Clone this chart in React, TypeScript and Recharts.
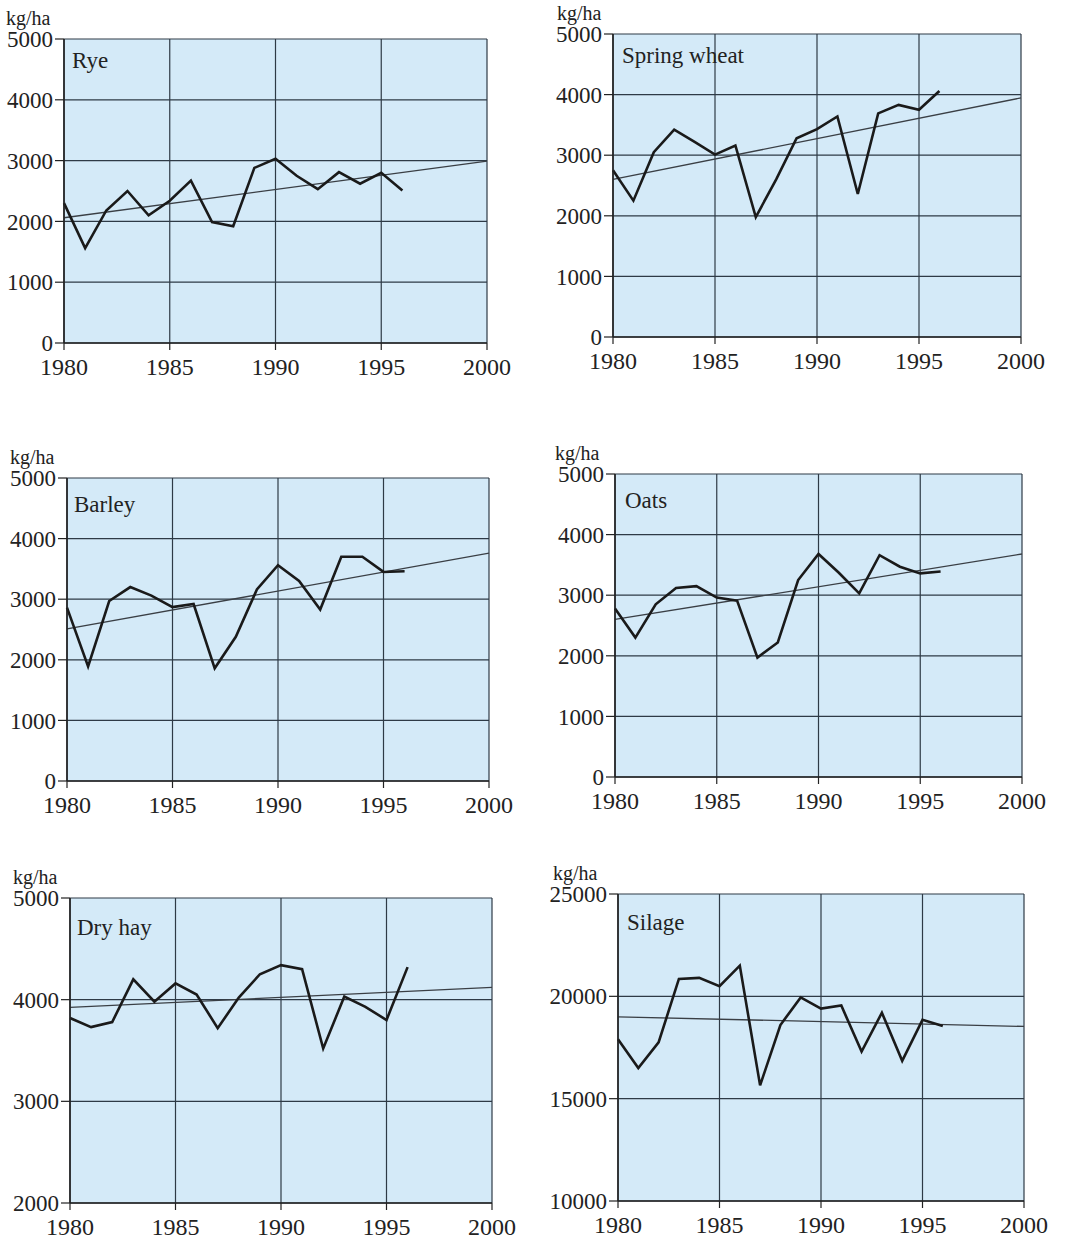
import { LineChart, Line, XAxis, YAxis, CartesianGrid } from "recharts"

const years = [1980, 1981, 1982, 1983, 1984, 1985, 1986, 1987, 1988, 1989, 1990, 1991, 1992, 1993, 1994, 1995, 1996]
const trendYears = [1980, 2000]
const xTicks = [1980, 1985, 1990, 1995, 2000]

const grainTicks = [0, 1000, 2000, 3000, 4000, 5000]
const hayTicks = [2000, 3000, 4000, 5000]
const silageTicks = [10000, 15000, 20000, 25000]

// yields, kg/ha
const rye = [2300, 1560, 2180, 2500, 2100, 2340, 2670, 1990, 1920, 2880, 3030, 2750, 2530, 2810, 2620, 2800, 2510]
const ryeTrend = [2060, 2990]

const springWheat = [2750, 2250, 3050, 3420, 3220, 3010, 3160, 1980, 2600, 3280, 3430, 3640, 2360, 3690, 3830, 3750, 4060]
const springWheatTrend = [2600, 3945]

const barley = [2860, 1890, 2970, 3200, 3060, 2870, 2920, 1860, 2380, 3160, 3560, 3300, 2830, 3700, 3700, 3450, 3460]
const barleyTrend = [2510, 3760]

const oats = [2780, 2300, 2850, 3120, 3150, 2960, 2910, 1970, 2220, 3250, 3680, 3370, 3030, 3660, 3470, 3360, 3390]
const oatsTrend = [2600, 3680]

const dryHay = [3820, 3730, 3780, 4200, 3980, 4160, 4050, 3720, 4020, 4250, 4340, 4300, 3520, 4030, 3930, 3800, 4320]
const dryHayTrend = [3925, 4120]

const silage = [17900, 16500, 17750, 20850, 20900, 20500, 21500, 15650, 18600, 19950, 19400, 19550, 17300, 19200, 16850, 18850, 18550]
const silageTrend = [19000, 18530]

const font = '"Liberation Serif", "Times New Roman", serif'
const ink = "#222"
const gridInk = "#2e3a46"
const plotFill = "#d4eaf8"

const Y_AXIS_W = 75
const TOP = 40
const RIGHT = 40
const BOTTOM = 40

interface PanelProps {
  title: string
  values: number[]
  trend: number[]
  ticks: number[]
  left: number
  top: number
  width: number
  height: number
  unitX: number
  titleX: number
  titleBase: number
}

function Panel({ title, values, trend, ticks, left, top, width, height, unitX, titleX, titleBase }: PanelProps) {
  const rows = years.map((year, i) => ({ year, value: values[i] }))
  const trendRows = trendYears.map((year, i) => ({ year, trend: trend[i] }))

  return (
    <>
      <div style={{ position: "absolute", left: unitX, top: top - 31, fontFamily: font, fontSize: 20, lineHeight: 1, color: ink }}>
        kg/ha
      </div>
      <div style={{ position: "absolute", left: left - Y_AXIS_W, top: top - TOP }}>
        <LineChart
          width={Y_AXIS_W + width + RIGHT}
          height={TOP + height + BOTTOM}
          data={rows}
          margin={{ top: TOP, right: RIGHT, bottom: 0, left: 0 }}
        >
          <CartesianGrid stroke={gridInk} strokeWidth={1.2} fill={plotFill} fillOpacity={1} />
          <XAxis
            dataKey="year"
            type="number"
            domain={[1980, 2000]}
            ticks={xTicks}
            interval={0}
            height={BOTTOM}
            tickSize={7}
            tickMargin={8}
            axisLine={{ stroke: ink, strokeWidth: 1.6 }}
            tickLine={{ stroke: ink, strokeWidth: 1.2 }}
            tick={{ fill: ink, fontSize: 24, fontFamily: font }}
          />
          <YAxis
            type="number"
            domain={[ticks[0], ticks[ticks.length - 1]]}
            ticks={ticks}
            interval={0}
            width={Y_AXIS_W}
            tickSize={9}
            tickMargin={2}
            axisLine={{ stroke: ink, strokeWidth: 1.6 }}
            tickLine={{ stroke: ink, strokeWidth: 1.2 }}
            tick={{ fill: ink, fontSize: 23, fontFamily: font }}
          />
          <Line
            data={trendRows}
            dataKey="trend"
            type="linear"
            stroke="#3a3f45"
            strokeWidth={1.3}
            dot={false}
            isAnimationActive={false}
          />
          <Line
            dataKey="value"
            type="linear"
            stroke="#1a1a1a"
            strokeWidth={2.6}
            dot={false}
            isAnimationActive={false}
          />
        </LineChart>
      </div>
      <div
        style={{
          position: "absolute",
          left: left + titleX,
          top: top + titleBase - 19,
          fontFamily: font,
          fontSize: 23,
          lineHeight: 1,
          color: ink,
          whiteSpace: "nowrap",
        }}
      >
        {title}
      </div>
    </>
  )
}

const panels: PanelProps[] = [
  { title: "Rye", values: rye, trend: ryeTrend, ticks: grainTicks, left: 64, top: 39, width: 423, height: 304, unitX: 6, titleX: 8, titleBase: 29 },
  { title: "Spring wheat", values: springWheat, trend: springWheatTrend, ticks: grainTicks, left: 613, top: 34, width: 408, height: 303, unitX: 557, titleX: 9, titleBase: 29 },
  { title: "Barley", values: barley, trend: barleyTrend, ticks: grainTicks, left: 67, top: 478, width: 422, height: 303, unitX: 10, titleX: 7, titleBase: 34 },
  { title: "Oats", values: oats, trend: oatsTrend, ticks: grainTicks, left: 615, top: 474, width: 407, height: 303, unitX: 555, titleX: 10, titleBase: 34 },
  { title: "Dry hay", values: dryHay, trend: dryHayTrend, ticks: hayTicks, left: 70, top: 898, width: 422, height: 305, unitX: 13, titleX: 7, titleBase: 37 },
  { title: "Silage", values: silage, trend: silageTrend, ticks: silageTicks, left: 618, top: 894, width: 406, height: 307, unitX: 553, titleX: 9, titleBase: 36 },
]

export default function App() {
  return (
    <div style={{ position: "absolute", left: 0, top: 0, width: 1082, height: 1242, background: "#fff", overflow: "hidden" }}>
      {panels.map((p) => (
        <Panel key={p.title} {...p} />
      ))}
    </div>
  )
}
